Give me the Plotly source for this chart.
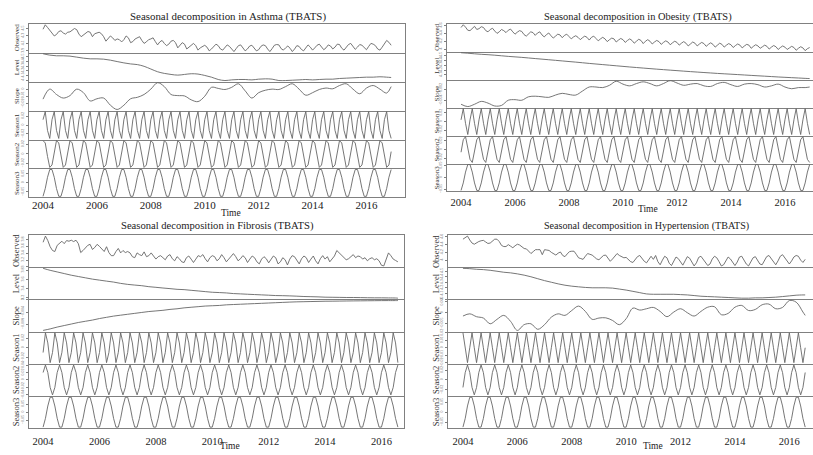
import plotly.graph_objects as go

W, H = 813, 455

# ---------------- time grids ----------------
months_a = [2004 + i / 12 for i in range(156)]          # Jan 2004 - Dec 2016
months_b = [2004 + i / 12 for i in range(152)]          # Jan 2004 - Aug 2016
quarters_a = [2004 + i / 4 for i in range(52)] + [2004 + 155 / 12]
quarters_b = [2004 + i / 4 for i in range(51)] + [2004 + 151 / 12]
year_ticks = [2004, 2006, 2008, 2010, 2012, 2014, 2016]
row_names = ["Observed", "Level", "Slope", "Season1", "Season2", "Season3"]

# ---------------- Asthma ----------------
asthma_observed = [
    4.48, 4.60, 4.53, 4.45, 4.38, 4.30, 4.34, 4.42, 4.44, 4.38, 4.35, 4.40,
    4.41, 4.46, 4.50, 4.47, 4.35, 4.28, 4.33, 4.38, 4.42, 4.40, 4.28, 4.36,
    4.39, 4.40, 4.36, 4.28, 4.16, 4.22, 4.30, 4.25, 4.18, 4.22, 4.20, 4.14,
    4.20, 4.30, 4.25, 4.12, 4.15, 4.22, 4.26, 4.28, 4.18, 4.10, 4.14, 4.20,
    4.22, 4.25, 4.15, 4.06, 4.14, 4.18, 4.10, 4.04, 4.08, 4.16, 4.18, 4.12,
    3.98, 4.06, 4.12, 4.08, 3.95, 4.00, 4.06, 4.10, 4.04, 3.92, 3.98, 4.02,
    4.05, 4.00, 3.90, 3.95, 4.03, 4.08, 4.04, 3.95, 3.92, 4.00, 4.06, 4.02,
    3.94, 3.88, 3.96, 4.04, 4.06, 3.98, 3.90, 3.95, 4.03, 4.05, 3.96, 3.90,
    3.93, 4.02, 4.06, 4.04, 3.95, 3.88, 3.96, 4.05, 4.07, 4.06, 3.96, 3.92,
    3.98, 4.03, 3.97, 3.88, 3.95, 4.04, 4.02, 3.94, 3.90, 3.99, 4.06, 4.00,
    3.92, 3.98, 4.05, 4.08, 4.00, 3.93, 3.98, 4.06, 4.03, 3.95, 4.00, 4.08,
    4.07, 3.97, 3.92, 3.99, 4.07, 4.10, 4.02, 3.94, 4.00, 4.07, 4.05, 3.99,
    3.93, 4.02, 4.10, 4.08, 4.04, 3.95, 3.92, 4.00, 4.10, 4.18, 4.13, 4.05,
]
asthma_level = [
    4.560, 4.531, 4.517, 4.517, 4.510, 4.489, 4.467, 4.453, 4.453, 4.446, 4.425, 4.396,
    4.368, 4.346, 4.332, 4.296, 4.239, 4.182, 4.147, 4.125, 4.111, 4.125, 4.140, 4.133,
    4.104, 4.068, 4.019, 3.997, 4.011, 4.019, 4.019, 4.011, 4.026, 4.033, 4.026, 3.997,
    3.997, 4.004, 4.011, 4.019, 4.011, 4.019, 4.026, 4.026, 4.040, 4.047, 4.054, 4.061,
    4.068, 4.068, 4.076, 4.068, 4.061,
]
asthma_slope = [
    -0.0137, 0.0001, -0.0073, -0.0122, -0.0088, 0.0001, -0.0048, -0.0162, -0.0132, -0.0122,
    -0.0221, -0.0280, -0.0221, -0.0132, -0.0112, -0.0073, 0.0001, 0.0090, 0.0036, -0.0073,
    -0.0088, -0.0093, -0.0147, -0.0171, -0.0097, 0.0026, 0.0011, -0.0004, 0.0026, 0.0075,
    -0.0023, -0.0122, -0.0048, -0.0014, 0.0001, -0.0004, 0.0036, 0.0075, 0.0001, -0.0083,
    -0.0048, -0.0004, 0.0016, 0.0006, 0.0051, 0.0075, 0.0001, -0.0063, 0.0016, 0.0051,
    0.0001, -0.0053, 0.0036,
]
asthma_season1_cycle = [0.012, 0.030, -0.012, -0.030]
asthma_season2_cycle = [0.028, 0.023, -0.005, -0.028, -0.023, 0.005]
asthma_season3_cycle = [-0.074, -0.031, 0.031, 0.074, 0.074, 0.031, -0.031, -0.074]

# ---------------- Obesity ----------------
obesity_observed = [
    4.55, 4.62, 4.56, 4.48, 4.47, 4.53, 4.58, 4.50, 4.52, 4.57, 4.55, 4.47,
    4.44, 4.50, 4.53, 4.46, 4.40, 4.44, 4.50, 4.47, 4.42, 4.48, 4.51, 4.44,
    4.38, 4.43, 4.47, 4.45, 4.37, 4.33, 4.40, 4.44, 4.42, 4.35, 4.41, 4.44,
    4.36, 4.31, 4.37, 4.41, 4.34, 4.28, 4.33, 4.38, 4.36, 4.29, 4.35, 4.38,
    4.32, 4.26, 4.31, 4.34, 4.30, 4.24, 4.29, 4.33, 4.30, 4.23, 4.30, 4.33,
    4.27, 4.21, 4.26, 4.30, 4.26, 4.19, 4.24, 4.28, 4.26, 4.18, 4.23, 4.27,
    4.24, 4.17, 4.22, 4.26, 4.22, 4.15, 4.20, 4.25, 4.22, 4.14, 4.20, 4.24,
    4.20, 4.13, 4.18, 4.22, 4.19, 4.12, 4.17, 4.21, 4.18, 4.11, 4.16, 4.20,
    4.17, 4.10, 4.15, 4.19, 4.15, 4.08, 4.13, 4.18, 4.15, 4.08, 4.13, 4.17,
    4.14, 4.07, 4.12, 4.16, 4.12, 4.05, 4.10, 4.15, 4.12, 4.05, 4.10, 4.14,
    4.11, 4.04, 4.09, 4.13, 4.10, 4.03, 4.08, 4.12, 4.10, 4.02, 4.07, 4.11,
    4.08, 4.02, 4.06, 4.10, 4.07, 4.00, 4.05, 4.09, 4.06, 3.99, 4.04, 4.08,
    4.05, 3.99, 4.03, 4.07, 4.04, 3.97, 4.02, 4.06, 4.03, 3.96, 4.01, 4.04,
]
obesity_level = [
    4.550, 4.540, 4.528, 4.518, 4.510, 4.500, 4.488, 4.476, 4.466, 4.456, 4.444, 4.432,
    4.420, 4.408, 4.396, 4.384, 4.372, 4.360, 4.347, 4.334, 4.322, 4.310, 4.298, 4.286,
    4.274, 4.262, 4.251, 4.240, 4.229, 4.218, 4.208, 4.198, 4.188, 4.178, 4.168, 4.159,
    4.150, 4.141, 4.132, 4.124, 4.116, 4.108, 4.100, 4.092, 4.084, 4.076, 4.068, 4.060,
    4.053, 4.046, 4.039, 4.032, 4.027,
]
obesity_slope = [
    -0.0046, -0.0050, -0.0046, -0.0041, -0.0044, -0.0049, -0.0048, -0.0039, -0.0038, -0.0039,
    -0.0033, -0.0032, -0.0033, -0.0034, -0.0030, -0.0027, -0.0029, -0.0030, -0.0023, -0.0016,
    -0.0016, -0.0017, -0.0013, -0.0006, -0.0011, -0.0014, -0.0010, -0.0007, -0.0010, -0.0014,
    -0.0010, -0.0005, -0.0009, -0.0013, -0.0011, -0.0010, -0.0014, -0.0015, -0.0010, -0.0008,
    -0.0012, -0.0015, -0.0011, -0.0010, -0.0012, -0.0016, -0.0014, -0.0011, -0.0016, -0.0019,
    -0.0017, -0.0017, -0.0016,
]
obesity_season1_cycle = [0.004, 0.030, -0.004, -0.030]
obesity_season2_cycle = [-0.006, 0.022, 0.029, 0.006, -0.022, -0.029]
obesity_season3_cycle = [-0.055, -0.023, 0.023, 0.055, 0.055, 0.023, -0.023, -0.055]

# ---------------- Fibrosis (Jan 2004 - Aug 2016) ----------------
fibrosis_observed = [
    3.72, 3.90, 3.77, 3.59, 3.48, 3.45, 3.63, 3.69, 3.75, 3.68, 3.77, 3.75,
    3.78, 3.74, 3.78, 3.68, 3.42, 3.48, 3.57, 3.63, 3.66, 3.51, 3.57, 3.66,
    3.60, 3.51, 3.45, 3.59, 3.42, 3.33, 3.33, 3.45, 3.54, 3.41, 3.48, 3.42,
    3.45, 3.41, 3.30, 3.27, 3.41, 3.36, 3.33, 3.44, 3.30, 3.33, 3.41, 3.32,
    3.23, 3.30, 3.33, 3.27, 3.21, 3.32, 3.36, 3.24, 3.18, 3.30, 3.24, 3.15,
    3.13, 3.27, 3.32, 3.23, 3.13, 3.23, 3.33, 3.30, 3.36, 3.24, 3.15, 3.27,
    3.33, 3.30, 3.18, 3.24, 3.36, 3.27, 3.15, 3.23, 3.32, 3.39, 3.30, 3.18,
    3.24, 3.33, 3.27, 3.13, 3.23, 3.32, 3.27, 3.15, 3.09, 3.23, 3.30, 3.24,
    3.12, 3.24, 3.32, 3.27, 3.09, 3.15, 3.27, 3.21, 3.06, 3.23, 3.33, 3.30,
    3.18, 3.09, 3.24, 3.32, 3.27, 3.13, 3.23, 3.32, 3.18, 3.09, 3.24, 3.33,
    3.23, 3.30, 3.15, 3.24, 3.32, 3.48, 3.41, 3.36, 3.27, 3.21, 3.24, 3.30,
    3.36, 3.27, 3.32, 3.30, 3.23, 3.27, 3.18, 3.24, 3.27, 3.21, 3.24, 3.18,
    3.05, 3.03, 3.20, 3.41, 3.33, 3.23, 3.19, 3.15,
]
fibrosis_level = [
    3.850, 3.806, 3.770, 3.734, 3.698, 3.669, 3.640, 3.611, 3.589, 3.567, 3.546, 3.517,
    3.495, 3.480, 3.466, 3.444, 3.430, 3.415, 3.401, 3.386, 3.379, 3.364, 3.350, 3.335,
    3.321, 3.314, 3.306, 3.292, 3.285, 3.277, 3.270, 3.263, 3.256, 3.248, 3.245, 3.241,
    3.234, 3.227, 3.223, 3.219, 3.212, 3.210, 3.208, 3.205, 3.205, 3.203, 3.200, 3.198,
    3.198, 3.196, 3.194, 3.190,
]
fibrosis_slope = [
    -0.01000, -0.00950, -0.00890, -0.00840, -0.00790, -0.00740, -0.00700, -0.00660,
    -0.00610, -0.00570, -0.00530, -0.00500, -0.00470, -0.00440, -0.00410, -0.00380,
    -0.00360, -0.00340, -0.00310, -0.00290, -0.00260, -0.00240, -0.00220, -0.00200,
    -0.00190, -0.00180, -0.00160, -0.00150, -0.00140, -0.00130, -0.00120, -0.00110,
    -0.00100, -0.00090, -0.00080, -0.00070, -0.00062, -0.00057, -0.00052, -0.00047,
    -0.00042, -0.00040, -0.00037, -0.00034, -0.00031, -0.00029, -0.00026, -0.00024,
    -0.00022, -0.00021, -0.00021, -0.00020,
]
fibrosis_season1_cycle = [-0.010, 0.031, 0.010, -0.031]
fibrosis_season2_cycle = [0.020, 0.040, 0.020, -0.020, -0.040, -0.020]
fibrosis_season3_cycle = [-0.092, -0.038, 0.038, 0.092, 0.092, 0.038, -0.038, -0.092]

# ---------------- Hypertension (Jan 2004 - Aug 2016) ----------------
hypertension_observed = [
    4.54, 4.58, 4.62, 4.52, 4.44, 4.41, 4.45, 4.48, 4.50, 4.51, 4.47, 4.43,
    4.44, 4.50, 4.54, 4.54, 4.48, 4.38, 4.35, 4.35, 4.40, 4.36, 4.32, 4.37,
    4.41, 4.39, 4.35, 4.30, 4.29, 4.22, 4.17, 4.22, 4.27, 4.27, 4.27, 4.14,
    4.27, 4.26, 4.25, 4.20, 4.16, 4.13, 4.18, 4.21, 4.12, 4.09, 4.16, 4.22,
    4.23, 4.23, 4.15, 4.06, 4.04, 4.02, 4.10, 4.17, 4.15, 4.13, 4.08, 4.03,
    4.01, 4.07, 4.12, 4.13, 4.05, 3.97, 4.03, 4.10, 4.17, 4.12, 4.08, 4.06,
    4.07, 4.02, 3.96, 3.94, 4.02, 4.09, 4.12, 4.05, 3.97, 3.93, 4.02, 4.10,
    4.02, 4.12, 3.96, 3.88, 4.00, 4.10, 4.06, 3.92, 3.86, 3.97, 4.08, 4.04,
    3.94, 3.87, 3.98, 4.09, 4.05, 3.95, 3.85, 3.93, 4.07, 4.10, 4.02, 3.92,
    3.86, 3.90, 4.03, 4.10, 4.06, 3.96, 3.85, 3.88, 4.00, 4.08, 4.03, 3.93,
    3.86, 3.95, 4.08, 4.10, 4.00, 3.90, 3.85, 3.95, 4.06, 4.09, 4.00, 3.90,
    3.88, 3.97, 4.09, 4.12, 4.04, 3.94, 3.88, 3.98, 4.10, 4.14, 4.06, 3.96,
    3.90, 3.98, 4.08, 4.12, 4.10, 4.00, 3.94, 4.02,
]
hypertension_level = [
    4.550, 4.544, 4.533, 4.527, 4.515, 4.498, 4.480, 4.469, 4.451, 4.428, 4.399, 4.364,
    4.330, 4.301, 4.272, 4.248, 4.231, 4.219, 4.208, 4.202, 4.202, 4.202, 4.196, 4.179,
    4.161, 4.138, 4.115, 4.092, 4.086, 4.086, 4.086, 4.086, 4.080, 4.074, 4.063, 4.051,
    4.045, 4.040, 4.034, 4.028, 4.022, 4.016, 4.016, 4.022, 4.022, 4.028, 4.034, 4.045,
    4.057, 4.069, 4.074, 4.074,
]
hypertension_slope = [
    -0.0015, -0.0005, -0.0018, -0.0024, -0.0050, -0.0030, -0.0012, -0.0039, -0.0080, -0.0054,
    -0.0050, -0.0075, -0.0054, -0.0020, -0.0005, -0.0012, 0.0010, 0.0030, 0.0006, -0.0030,
    -0.0024, -0.0023, -0.0035, -0.0054, -0.0027, 0.0021, 0.0012, 0.0018, 0.0024, 0.0006,
    -0.0018, 0.0003, 0.0018, 0.0000, -0.0015, 0.0006, 0.0025, 0.0027, -0.0009, -0.0003,
    0.0025, 0.0033, 0.0010, 0.0015, 0.0036, 0.0039, 0.0018, 0.0024, 0.0055, 0.0048,
    0.0003, -0.0012,
]
hypertension_season1_cycle = [0.020, 0.000, -0.020, 0.000]
hypertension_season2_cycle = [-0.015, 0.015, 0.030, 0.015, -0.015, -0.030]
hypertension_season3_cycle = [-0.074, -0.031, 0.031, 0.074, 0.074, 0.031, -0.031, -0.074]

# y tick values per panel / row
asthma_yticks = [[3.9, 4.1, 4.3, 4.5], [4.0, 4.1, 4.2, 4.3, 4.4, 4.5], [-0.02, -0.01, 0.0],
                 [-0.02, 0.0, 0.02], [-0.02, 0.0, 0.02], [-0.05, 0.0, 0.05]]
obesity_yticks = [[4.0, 4.2, 4.4, 4.6], [4.1, 4.2, 4.3, 4.4, 4.5], [-0.004, -0.002],
                  [-0.02, 0.0, 0.02], [-0.02, 0.0, 0.02], [-0.05, 0.0, 0.05]]
fibrosis_yticks = [[3.0, 3.2, 3.4, 3.6, 3.8], [3.2, 3.4, 3.6, 3.8], [-0.008, -0.004, 0.0],
                   [-0.02, 0.0, 0.02], [-0.04, -0.02, 0.0, 0.02, 0.04], [-0.1, -0.05, 0.0, 0.05, 0.1]]
hypertension_yticks = [[3.8, 4.0, 4.2, 4.4, 4.6], [4.0, 4.1, 4.2, 4.3, 4.4, 4.5], [-0.005, 0.0, 0.005],
                       [-0.02, -0.01, 0.0, 0.01, 0.02], [-0.02, 0.0, 0.02], [-0.05, 0.0, 0.05]]


def tile(cycle, n):
    # seasonal components repeat the same cycle throughout the series
    return [cycle[i % len(cycle)] for i in range(n)]


panels = [
    dict(name="Asthma", months=months_a, quarters=quarters_a,
         obs=asthma_observed, level=asthma_level, slope=asthma_slope,
         s=[asthma_season1_cycle, asthma_season2_cycle, asthma_season3_cycle], yticks=asthma_yticks,
         px=(29, 405), py=(21, 197), xr=(2003.48, 2017.43), mirror=True, standoff=-3,
         title_xy=(228, 14), title_size=10.9, time_xy=(231, 213), lab_x=17, lab_size=7,
         tick_size=11),
    dict(name="Obesity", months=months_a, quarters=quarters_a,
         obs=obesity_observed, level=obesity_level, slope=obesity_slope,
         s=[obesity_season1_cycle, obesity_season2_cycle, obesity_season3_cycle], yticks=obesity_yticks,
         px=(447, 813), py=(21, 191), xr=(2003.48, 2017.04), mirror=False, standoff=1,
         title_xy=(638, 14), title_size=10.4, time_xy=(648, 209), lab_x=437, lab_size=7,
         tick_size=10.5),
    dict(name="Fibrosis", months=months_b, quarters=quarters_b,
         obs=fibrosis_observed, level=fibrosis_level, slope=fibrosis_slope,
         s=[fibrosis_season1_cycle, fibrosis_season2_cycle, fibrosis_season3_cycle], yticks=fibrosis_yticks,
         px=(29, 404), py=(235, 431), xr=(2003.50, 2016.80), mirror=True, standoff=3,
         title_xy=(217, 226), title_size=10.6, time_xy=(230, 449), lab_x=16, lab_size=8.5,
         tick_size=10.5),
    dict(name="Hypertension", months=months_b, quarters=quarters_b,
         obs=hypertension_observed, level=hypertension_level, slope=hypertension_slope,
         s=[hypertension_season1_cycle, hypertension_season2_cycle, hypertension_season3_cycle],
         yticks=hypertension_yticks,
         px=(448, 813), py=(235, 431), xr=(2003.45, 2016.87), mirror=False, standoff=3,
         title_xy=(646, 226), title_size=10.1, time_xy=(653, 449), lab_x=436, lab_size=8.5,
         tick_size=10.5),
]

LINE = "#666666"
FRAME = "#808080"
SERIF = "Liberation Serif, Times New Roman, serif"

fig = go.Figure()
layout = dict(width=W, height=H, margin=dict(l=0, r=0, t=0, b=0),
              paper_bgcolor="white", plot_bgcolor="white", showlegend=False)
annotations = []

k = 0
for p in panels:
    n = len(p["obs"])
    series = [
        (p["months"], p["obs"], "linear"),
        (p["quarters"], p["level"], "spline"),
        (p["quarters"], p["slope"], "spline"),
        (p["months"], tile(p["s"][0], n), "linear"),
        (p["months"], tile(p["s"][1], n), "linear"),
        (p["months"], tile(p["s"][2], n), "linear"),
    ]
    top, bot = p["py"]
    rh = (bot - top) / 6
    for r, (xs, ys, shape) in enumerate(series):
        k += 1
        xa = "x" if k == 1 else f"x{k}"
        ya = "y" if k == 1 else f"y{k}"
        fig.add_trace(go.Scatter(x=xs, y=ys, mode="lines",
                                 line=dict(color=LINE, width=0.9, shape=shape),
                                 xaxis=xa, yaxis=ya, hoverinfo="skip"))
        lo, hi = min(ys), max(ys)
        pad = (hi - lo) * 0.04
        y_top = top + r * rh
        y_bot = top + (r + 1) * rh
        last = r == 5
        layout["xaxis" if k == 1 else f"xaxis{k}"] = dict(
            domain=[p["px"][0] / W, p["px"][1] / W], range=list(p["xr"]),
            anchor=ya, showline=True, mirror=(r == 0), linecolor=FRAME, linewidth=1,
            showgrid=False, zeroline=False, tickvals=year_ticks,
            showticklabels=last, ticks="", ticklabelstandoff=p["standoff"],
            tickfont=dict(family=SERIF, size=p["tick_size"], color="#222"))
        layout["yaxis" if k == 1 else f"yaxis{k}"] = dict(
            domain=[1 - y_bot / H, 1 - y_top / H], range=[lo - pad, hi + pad],
            anchor=xa, showline=True, mirror=p["mirror"], linecolor=FRAME, linewidth=1,
            showgrid=False, zeroline=False, tickvals=p["yticks"][r],
            ticks="outside", ticklen=2, tickcolor=FRAME, tickangle=-90,
            tickfont=dict(family=SERIF, size=4, color="#666"))
        annotations.append(dict(text=row_names[r], x=p["lab_x"] / W, y=1 - (y_top + y_bot) / 2 / H,
                                xref="paper", yref="paper", showarrow=False, textangle=-90,
                                font=dict(family=SERIF, size=p["lab_size"], color="#333"),
                                xanchor="center", yanchor="middle"))
    annotations.append(dict(text=f"Seasonal decomposition in {p['name']} (TBATS)",
                            x=p["title_xy"][0] / W, y=1 - p["title_xy"][1] / H,
                            xref="paper", yref="paper", showarrow=False,
                            font=dict(family=SERIF, size=p["title_size"], color="#222"),
                            xanchor="center", yanchor="middle"))
    annotations.append(dict(text="Time", x=p["time_xy"][0] / W, y=1 - p["time_xy"][1] / H,
                            xref="paper", yref="paper", showarrow=False,
                            font=dict(family=SERIF, size=9.5, color="#222"),
                            xanchor="center", yanchor="middle"))

layout["annotations"] = annotations
fig.update_layout(**layout)
fig.write_html("out.html", config={"displayModeBar": False},
               post_script="document.body.style.margin='0px';document.body.style.overflow='hidden';")
